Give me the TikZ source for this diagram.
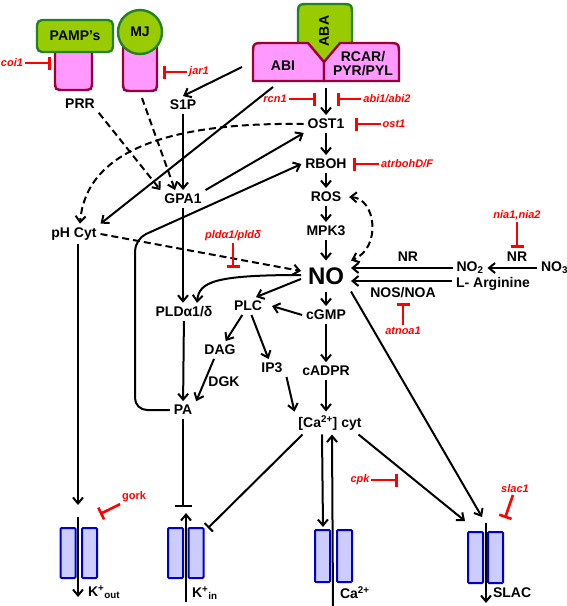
\documentclass[tikz,border=0pt]{standalone}
\usepackage{fontspec}
\setmainfont{Liberation Sans}
\usetikzlibrary{arrows.meta,positioning}

\definecolor{leaf}{RGB}{153,204,0}
\definecolor{leafedge}{RGB}{34,130,34}
\definecolor{rcpt}{RGB}{255,153,255}
\definecolor{rcptedge}{RGB}{153,0,51}
\definecolor{chfill}{RGB}{204,204,255}
\definecolor{chedge}{RGB}{0,0,204}

\tikzset{
  mol/.style={font=\bfseries\fontsize{14}{16}\selectfont, inner sep=3pt},
  bigmol/.style={font=\bfseries\fontsize{24}{28}\selectfont, inner sep=6pt},
  mut/.style={text=red, font=\bfseries\itshape\fontsize{11}{13}\selectfont, inner sep=1pt},
  inh/.style={red, line width=2.6pt, -{Bar[width=13pt]}},
  blkinh/.style={-{Bar[width=#1]}},
  chan/.style={draw=chedge, fill=chfill, line width=2pt, rounded corners=1pt,
    minimum width=15pt, minimum height=50pt, inner sep=0pt},
  dsh/.style={dash pattern=on 7pt off 4pt},
  shell/.style={line width=2.4pt}
}

\begin{document}
\begin{tikzpicture}[x=1pt,y=-1pt,node distance=40pt,on grid,line width=2pt,
  >={Straight Barb[length=6pt,width=10pt]}]
\useasboundingbox (0,0) rectangle (567,606);

% receptors at the top
\draw[shell,rcptedge,fill=rcpt] (55,50) -- (55,80) .. controls (55,90) .. (65,90)
  -- (82,90) .. controls (92,90) .. (92,80) -- (92,50);
\node[mol,draw=leafedge,fill=leaf,shell,rounded corners=5pt,minimum width=76pt,
  minimum height=32pt] (pamp) at (75,36) {PAMP's};
\draw[shell,rcptedge,fill=rcpt] (123,40) -- (123,81) .. controls (123,91) .. (133,91)
  -- (147,91) .. controls (157,91) .. (157,81) -- (157,40);
\node[mol,circle,draw=leafedge,fill=leaf,shell,minimum size=44pt] (mj) at (140,32) {MJ};
\draw[shell,leafedge,fill=leaf] (298,64) -- (298,16) .. controls (298,4) .. (310,4)
  -- (340,4) .. controls (352,4) .. (352,16) -- (352,64);
\draw[shell,rcptedge,fill=rcpt] (253,81) -- (253,55) .. controls (253,43) .. (265,43)
  -- (308,43) -- (324,62) -- (324,81) -- cycle;
\draw[shell,rcptedge,fill=rcpt] (324,81) -- (324,62) -- (340,43) -- (387,43)
  .. controls (399,43) .. (399,55) -- (399,81) -- cycle;
\node[mol,rotate=90] (aba) at (324,31) {ABA};
\node[mol] (abi) at (283,66) {ABI};
\node[mol,align=center] (rcar) at (363,64) {RCAR/\\[-2pt]PYR/PYL};

\coordinate (abiL) at (242,67);
\coordinate (abiD) at (273,87);
\coordinate (abaD) at (326,88);
\coordinate (prrD) at (142,98);

% signalling nodes
\node[mol] (prr) at (80,104) {PRR};
\node[mol] (s1p) at (183,105) {S1P};
\node[mol] (gpa) at (183,199) {GPA1};
\node[mol] (ph) at (74,234) {pH Cyt};
\node[mol] (pld) at (184,312) {PLDα1/δ};
\node[mol] (plc) at (248,306) {PLC};
\node[mol] (dag) at (220,350) {DAG};
\node[mol] (dgk) at (224,382) {DGK};
\node[mol] (ip3) at (272,368) {IP3};
\node[mol] (pa) at (183,410) {PA};

\node[mol] (ost) at (326,124) {OST1};
\node[mol, below=40pt of ost] (rboh) {RBOH};
\node[mol, below=33pt of rboh] (ros) {ROS};
\node[mol, below=34pt of ros] (mpk) {MPK3};
\node[bigmol, below=45pt of mpk] (no) {NO};
\node[mol, below=39pt of no] (cgmp) {cGMP};
\node[mol, below=56pt of cgmp] (cadpr) {cADPR};
\node[mol, below=52pt of cadpr, xshift=4pt] (ca) {[Ca\textsuperscript{2+}] cyt};

\node[mol] (nrA) at (408,257) {NR};
\node[mol] (no2) at (470,268) {NO\textsubscript{2}};
\node[mol] (nrB) at (517,257) {NR};
\node[mol,anchor=west] (no3) at (537,268) {NO\textsubscript{3}};
\node[mol] (larg) at (493,284) {L- Arginine};
\node[mol] (nos) at (403,293) {NOS/NOA};

% channels
\node[chan] (koutL) at (68,553) {};
\node[chan] (koutR) at (89.5,553) {};
\node[chan] (kinL) at (175.5,553) {};
\node[chan] (kinR) at (196,553) {};
\node[chan,minimum height=52pt] (caL) at (322.5,556) {};
\node[chan,minimum height=52pt] (caR) at (344.5,556) {};
\node[chan,minimum height=51pt] (slacL) at (475.5,557.5) {};
\node[chan,minimum height=51pt] (slacR) at (495.5,557.5) {};

\node[mol,anchor=west] (kout) at (84,592) {K\textsuperscript{+}\textsubscript{out}};
\node[mol,anchor=west] (kin) at (188,593) {K\textsuperscript{+}\textsubscript{in}};
\node[mol,anchor=west] (caion) at (336,593) {Ca\textsuperscript{2+}};
\node[mol,anchor=west] (slac) at (489,593) {SLAC};

\coordinate (koutA) at (78,505);
\coordinate (koutT) at (78,517);
\coordinate (koutB) at (78,597);
\coordinate (kinA) at (183,507);
\coordinate (kinT) at (186,513);
\coordinate (kinB) at (186,602);
\coordinate (kinC) at (208,528);
\coordinate (caT) at (323,527);
\coordinate (caB) at (333,606);
\coordinate (slacA) at (465,521);
\coordinate (slacB) at (482,517);
\coordinate (slacT) at (486,523);
\coordinate (slacE) at (486,603);

% mutants
\node[mut] (coi) at (12,63) {coi1};
\node[mut] (jar) at (199,72) {jar1};
\node[mut] (rcn) at (275,99) {rcn1};
\node[mut] (abim) at (387,99) {abi1/abi2};
\node[mut] (ostm) at (394,124) {ost1};
\node[mut] (atr) at (407,164) {atrbohD/F};
\node[mut] (pldm) at (233,236) {pldα1/pldδ};
\node[mut] (nia) at (517,215) {nia1,nia2};
\node[mut] (atnoa) at (403,331) {atnoa1};
\node[mut,font=\bfseries\fontsize{11}{13}\selectfont] (gork) at (134,497) {gork};
\node[mut] (cpk) at (360,480) {cpk};
\node[mut] (slacm) at (515,489) {slac1};

\coordinate (coiT) at (51,63);
\coordinate (jarT) at (163,72);
\coordinate (rcnT) at (316,99);
\coordinate (abiT) at (337,99);
\coordinate (ostT) at (355,124);
\coordinate (atrT) at (353,164);
\coordinate (pldT) at (233,268);
\coordinate (niaT) at (517,248);
\coordinate (noaT) at (403,303);
\coordinate (gorkT) at (100,514);
\coordinate (cpkT) at (398,480);
\coordinate (slacmT) at (505,518);

% central chain
\draw[->] (abaD) -- (ost);
\draw[->] (ost) -- (rboh);
\draw[->] (rboh) -- (ros);
\draw[->] (ros) -- (mpk);
\draw[->] (mpk) -- (no);
\draw[->] (no) -- (cgmp);
\draw[->] (cgmp) -- (cadpr);
\draw[->] (cadpr) -- (cadpr |- ca.north);
\draw[<->,dsh] ([xshift=4pt]ros.east) .. controls (376,198) and (382,248) .. (no.north east);

% upper left part
\draw[->] (abiL) -- (s1p.north);
\draw[->] (abiD) -- (ph.north east);
\draw[->] (s1p) -- (gpa);
\draw[->,dsh] (prr.south east) -- (gpa.north west);
\draw[->,dsh] (prrD) -- ([xshift=-8pt]gpa.north);
\draw[->] (gpa.north east) -- (ost.south west);
\draw[->,dsh] (ost.west) .. controls (170,122) and (86,150) .. ([xshift=6pt]ph.north);
\draw[->] (pa.west) [rounded corners=12pt] -- (135,410) -- (135,239) -- (rboh.west);
\draw[->,dsh] (ph.east) -- ([yshift=5pt]no.west);

% NO sources
\draw[->] (no2.west) -- (no2.west -| no.east);
\draw[->] ([yshift=3pt]larg.west) -- ([yshift=3pt]larg.west -| no.east);
\draw[->] (no3.west) -- (no2.east);

% lipid branch
\draw[->] (gpa) -- (gpa |- pld.north);
\draw[->] ([yshift=1pt]no.west) .. controls (214,275) and (199,282) .. ([xshift=13pt]pld.north);
\draw[->] ([yshift=-3pt]no.west) -- ([xshift=8pt]plc.north);
\draw[->] (cgmp.west) -- ([xshift=6pt]plc.east);
\draw[->] (plc) -- (dag);
\draw[->] (plc) -- (ip3);
\draw[->] ([xshift=-6pt]dag.south) -- (pa.north east);
\draw[->] (pld) -- (pa);
\draw[->] (ip3.south east) -- (ca.north west);

% towards the channels
\draw[->] (koutA |- ph.south) -- (koutA);
\draw[->] (koutT) -- (koutB);
\draw[blkinh=17pt] (pa) -- (kinA);
\draw[->] (kinB) -- (kinT);
\draw[blkinh=12pt] ([xshift=8pt]ca.south west) -- (kinC);
\draw[->] ([xshift=-8pt]ca.south) -- (caT);
\draw[->] (caB) -- ([xshift=2pt]ca.south);
\draw[->] ([xshift=-7pt]ca.south east) -- (slacA);
\draw[->] (no.south east) -- (slacB);
\draw[->] (slacT) -- (slacE);

% inhibitions by mutants
\draw[inh] (coi) -- (coiT);
\draw[inh] (jar) -- (jarT);
\draw[inh] (rcn) -- (rcnT);
\draw[inh] (abim) -- (abiT);
\draw[inh] (ostm) -- (ostT);
\draw[inh] (atr) -- (atrT);
\draw[inh] (pldm) -- (pldT);
\draw[inh] (nia) -- (niaT);
\draw[inh] (atnoa) -- (noaT);
\draw[inh] (gork.south west) -- (gorkT);
\draw[inh] (cpk) -- (cpkT);
\draw[inh] (slacm) -- (slacmT);
\end{tikzpicture}
\end{document}
